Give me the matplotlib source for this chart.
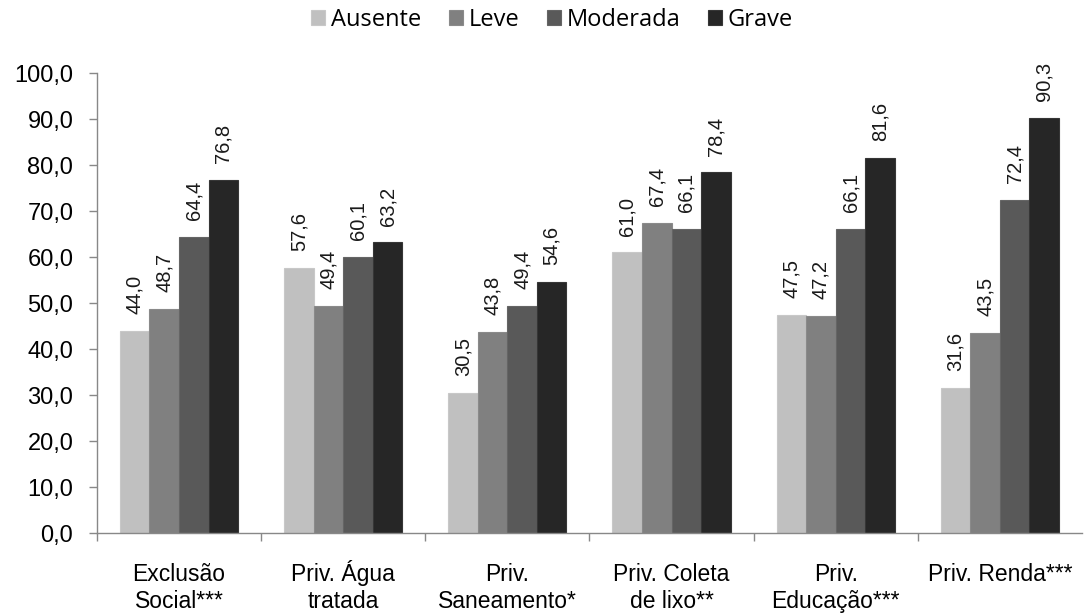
import numpy as np
import matplotlib
matplotlib.use("Agg")
from matplotlib import pyplot as plt
from matplotlib.ticker import FixedLocator, NullFormatter

categorias = ["Exclusão\nSocial***", "Priv. Água\ntratada", "Priv.\nSaneamento*",
              "Priv. Coleta\nde lixo**", "Priv.\nEducação***", "Priv. Renda***"]
series = ["Ausente", "Leve", "Moderada", "Grave"]
ausente = [44.0, 57.6, 30.5, 61.0, 47.5, 31.6]
leve = [48.7, 49.4, 43.8, 67.4, 47.2, 43.5]
moderada = [64.4, 60.1, 49.4, 66.1, 66.1, 72.4]
grave = [76.8, 63.2, 54.6, 78.4, 81.6, 90.3]
cores = ["#c0c0c0", "#808080", "#595959", "#262626"]
bordas = ["#c8c8c8", "#8a8a8a", "#656565", "#363636"]
yticks = [0, 10, 20, 30, 40, 50, 60, 70, 80, 90, 100]

plt.rcParams['font.family'] = ['Liberation Sans', 'DejaVu Sans']

fig = plt.figure(figsize=(10.87, 6.14), dpi=100)
ax = fig.add_axes([0.0892, 0.1319, 0.9062, 0.7491])

valores = [ausente, leve, moderada, grave]
x = np.arange(len(categorias))
w = 0.18
barras = []
for i, (nome, vals, cor, borda) in enumerate(zip(series, valores, cores, bordas)):
    pos = x + (i - 1.5) * w
    b = ax.bar(pos, vals, w, color=cor, label=nome, edgecolor=borda, linewidth=0.8)
    barras.append(b)
    for xp, v in zip(pos, vals):
        ax.annotate(f"{v:.1f}".replace(".", ","), (xp, v), xytext=(0, 12),
                    textcoords="offset points", rotation=90,
                    ha="center", va="bottom", fontsize=14.5, color="#1a1a1a")

ax.set_xlim(-0.5, len(categorias) - 0.5)
ax.set_ylim(0, 100)
ax.set_yticks(yticks)
ax.set_yticklabels([f"{t:.1f}".replace(".", ",") for t in yticks], fontsize=17)

# category names: each line on a fixed baseline so accents don't shift rows
ax.set_xticks(x)
ax.set_xticklabels([])
ax.tick_params(axis="x", which="major", length=0)
for xc, nome in zip(x, categorias):
    for k, linha in enumerate(nome.split("\n")):
        ax.annotate(linha, (xc, 0), xycoords=ax.get_xaxis_transform(),
                    xytext=(0, -34.5 - 19.5 * k), textcoords="offset points",
                    ha="center", va="baseline", fontsize=16.5, color="#000000")

ax.xaxis.set_minor_locator(FixedLocator(np.arange(-0.5, len(categorias) - 0.5, 1)))
ax.xaxis.set_minor_formatter(NullFormatter())
ax.tick_params(axis="x", which="minor", length=6, color="#888888", width=1)
ax.tick_params(axis="y", length=6, color="#888888", width=1, pad=11)

for s in ["top", "right"]:
    ax.spines[s].set_visible(False)
for s in ["left", "bottom"]:
    ax.spines[s].set_color("#888888")
    ax.spines[s].set_linewidth(1)

fig.legend(handles=barras, labels=series, loc="center", bbox_to_anchor=(0.508, 0.967),
           ncol=4, frameon=False, prop={"family": "Open Sans", "size": 17},
           handlelength=0.6, handleheight=0.6, handletextpad=0.25, columnspacing=1.15)

fig.savefig("out.png", dpi=100)
